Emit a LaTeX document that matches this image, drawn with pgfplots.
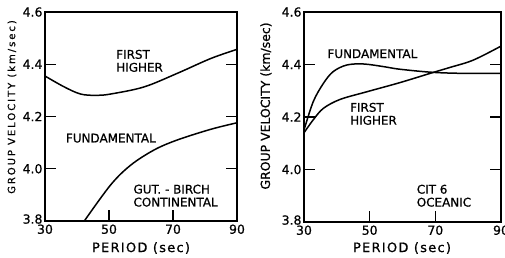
\documentclass[border=0pt]{standalone}
\usepackage{fontspec}
\setmainfont{DejaVu Sans}
\newcommand\lf[1]{\fontsize{#1}{#1}\selectfont\addfontfeatures{FakeBold=0.7}}
\usepackage{pgfplots}
\pgfplotsset{compat=1.18}
\tikzset{lab/.style={anchor=west, align=left, font=\lf{12}, inner sep=0pt}}
\begin{document}
\begin{tikzpicture}
\useasboundingbox (0,0) rectangle (505bp,258bp);
\pgfplotsset{panel/.style={
  scale only axis, anchor=south west,
  xmin=30, xmax=90, ymin=3.8, ymax=4.6,
  xtick={30,50,70,90}, ytick={3.8,4.0,4.2,4.4,4.6},
  yticklabels={\raisebox{4bp}{3.8},4.0,4.2,4.4,4.6},
  xtick pos=left, ytick pos=both, yticklabel pos=left,
  tick align=inside, major tick length=11bp,
  axis line style={line width=1.3bp},
  tick style={line width=1.1bp, black},
  /pgf/number format/assume math mode=true,
  ticklabel style={font=\lf{12.5}},
  yticklabel style={xshift=1bp},
  clip=false},
  curve/.style={line width=1.5bp, black, smooth, tension=0.55, no marks}}
\begin{axis}[panel, at={(45bp,37bp)}, width=192bp, height=209bp]
\addplot[curve] coordinates {(30,4.355)(35.9,4.314)(41.1,4.286)(46,4.281)(50.5,4.286)(60.9,4.313)(71.3,4.365)(81.8,4.422)(90,4.457)};
\addplot[curve] coordinates {(42.4,3.802)(50.5,3.938)(56.8,4.014)(64.1,4.072)(71.3,4.110)(81.8,4.151)(90,4.176)};
\node[lab] at (axis cs:52.2,4.413) {FIRST\\[1bp]HIGHER};
\node[lab] at (axis cs:36.5,4.117) {FUNDAMENTAL};
\node[lab] at (axis cs:57.6,3.897) {GUT. - BIRCH\\[1bp]CONTINENTAL};
\end{axis}
\begin{axis}[panel, at={(304bp,36bp)}, width=197bp, height=210bp]
\addplot[curve] coordinates {(30,4.150)(32.8,4.258)(35.9,4.328)(38.9,4.373)(43.0,4.398)(48.1,4.402)(54.2,4.392)(59.2,4.382)(69.4,4.370)(79.6,4.366)(90,4.366)};
\addplot[curve] coordinates {(30,4.140)(32.8,4.189)(35.9,4.233)(41.0,4.267)(49.1,4.296)(59.2,4.331)(69.4,4.370)(74.5,4.389)(81.6,4.417)(90,4.470)};
\node[lab] at (axis cs:37.1,4.441) {FUNDAMENTAL};
\node[lab] at (axis cs:44.0,4.212) {FIRST\\[1bp]HIGHER};
\node[lab] at (axis cs:64.3,3.900) {CIT 6\\[1bp]OCEANIC};
\end{axis}
\node[font={\lf{13}\addfontfeatures{LetterSpace=10}}] at (141bp,10bp) {PERIOD (sec)};
\node[font={\lf{13}\addfontfeatures{LetterSpace=10}}] at (402bp,10bp) {PERIOD (sec)};
\node[rotate=90, font={\lf{10}\addfontfeatures{LetterSpace=20}}] at (12bp,151bp) {GROUP VELOCITY (km/sec)};
\node[rotate=90, font={\lf{12.5}}] at (266bp,152bp) {GROUP VELOCITY (km/sec)};
\end{tikzpicture}
\end{document}
